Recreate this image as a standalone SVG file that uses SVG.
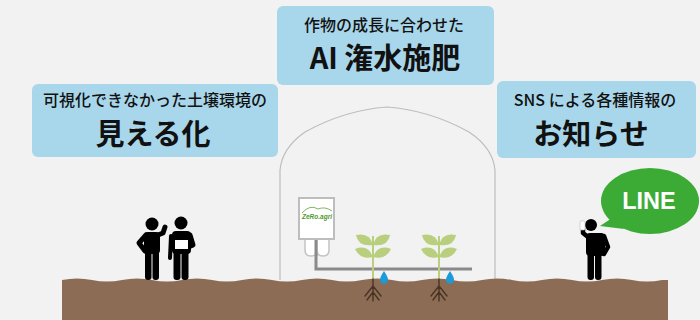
<svg xmlns="http://www.w3.org/2000/svg" width="700" height="320" viewBox="0 0 700 320">
  <style>
    .box { fill: #a8d6ea; }
    .jp { font-family: "Noto Sans CJK JP", "Noto Sans", sans-serif; fill: #111; text-anchor: middle; }
    .small { font-size: 16px; font-weight: 500; }
    .big { font-size: 29px; font-weight: 700; }
    .ink { fill: #000; }
    .limb { fill: none; stroke: #000; stroke-linecap: round; stroke-linejoin: round; }
    .leaf { fill: #b9cf7e; }
    .root { fill: none; stroke: #4a3324; stroke-width: 1.4; stroke-linecap: round; }
    .drop { fill: #1d9ad8; }
  </style>

  <rect width="700" height="320" fill="#f2f2f2"/>

  <!-- greenhouse outline -->
  <path d="M280,280 V170 Q282,148 305,132 Q345,110 387,107 Q429,110 469,132 Q493,148 495,170 V280" fill="none" stroke="#bdbdbd" stroke-width="1.2"/>

  <!-- soil -->
  <path d="M62,280 q15,-3 30,0 t30,0 t30,0 t30,0 t30,0 t30,0 t30,0 t30,0 t30,0 t30,0 t30,0 t30,0 t30,0 t30,0 t30,0 t30,0 t30,0 t30,0 t30,0 t30,0 L668,280 V320 H62 Z" fill="#8c6c54"/>

  <!-- label: visualisation -->
  <g id="label-visualize">
    <rect class="box" x="32" y="84" width="246" height="73" rx="6"/>
    <text class="jp small" x="155" y="106">可視化できなかった土壌環境の</text>
    <text class="jp big" x="153" y="145">見える化</text>
  </g>

  <!-- label: AI irrigation -->
  <g id="label-ai">
    <rect class="box" x="277" y="6" width="217" height="79" rx="6"/>
    <text class="jp small" x="384" y="31">作物の成長に合わせた</text>
    <text class="jp big" x="385" y="69">AI 潅水施肥</text>
  </g>

  <!-- label: notifications -->
  <g id="label-sns">
    <rect class="box" x="497" y="81" width="199" height="77" rx="6"/>
    <text class="jp small" x="595" y="106">SNS による各種情報の</text>
    <text class="jp big" x="591" y="145">お知らせ</text>
  </g>

  <!-- connectors: irrigation piping -->
  <g id="connectors">
    <path d="M316,240 V269 H472" fill="none" stroke="#8a8a8a" stroke-width="3"/>
  </g>

  <!-- controller unit -->
  <g id="controller">
    <path d="M305,239 V250 Q305,256 311,256 Q317,256 317,250 V239" fill="#fff" stroke="#c4c4c4" stroke-width="1.5"/>
    <path d="M317,239 V250 Q317,256 323,256 Q329,256 329,250 V239" fill="#fff" stroke="#c4c4c4" stroke-width="1.5"/>
    <path d="M316,240 V256" stroke="#8a8a8a" stroke-width="3"/>
    <rect x="299" y="198" width="35" height="41" fill="#fff" stroke="#bdbdbd" stroke-width="2"/>
    <path d="M302,213 Q310,204 318,209 Q325,206 332,211" fill="none" stroke="#5fa33a" stroke-width="0.8"/>
    <text x="317" y="219" font-family="Liberation Sans, sans-serif" font-size="6.5" font-weight="700" font-style="italic" fill="#4f9a2e" text-anchor="middle">ZeRo.agri</text>
  </g>

  <!-- plant 1 -->
  <g id="plant-1">
    <path d="M373,236 V279" stroke="#b9cf7e" stroke-width="2"/>
    <path class="leaf" d="M373,245 Q370,232 356,235 Q358,247 373,245Z"/>
    <path class="leaf" d="M373,245 Q376,232 390,235 Q388,247 373,245Z"/>
    <path class="leaf" d="M373,257 Q368,244 355,249 Q360,260 373,257Z"/>
    <path class="leaf" d="M373,257 Q378,244 391,249 Q386,260 373,257Z"/>
    <path class="root" d="M373,279 V301 M373,286 L365,296 M373,286 L381,296 M373,292 L367,300 M373,292 L379,300"/>
    <path class="drop" d="M384,271 C384,271 380,277 380,279.5 A4,4 0 0 0 388,279.5 C388,277 384,271 384,271Z"/>
  </g>

  <!-- plant 2 -->
  <g id="plant-2">
    <path d="M439,236 V279" stroke="#b9cf7e" stroke-width="2"/>
    <path class="leaf" d="M439,245 Q436,232 422,235 Q424,247 439,245Z"/>
    <path class="leaf" d="M439,245 Q442,232 456,235 Q454,247 439,245Z"/>
    <path class="leaf" d="M439,257 Q434,244 421,249 Q426,260 439,257Z"/>
    <path class="leaf" d="M439,257 Q444,244 457,249 Q452,260 439,257Z"/>
    <path class="root" d="M439,279 V301 M439,286 L431,296 M439,286 L447,296 M439,292 L433,300 M439,292 L445,300"/>
    <path class="drop" d="M450,271 C450,271 446,277 446,279.5 A4,4 0 0 0 454,279.5 C454,277 450,271 450,271Z"/>
  </g>

  <!-- farmer pointing -->
  <g id="person-1">
    <circle class="ink" cx="152" cy="224" r="6.5"/>
    <rect class="ink" x="144" y="232" width="16" height="22" rx="4"/>
    <rect class="ink" x="145" y="249" width="6.5" height="31" rx="3"/>
    <rect class="ink" x="152.5" y="249" width="6.5" height="31" rx="3"/>
    <polyline class="limb" points="146,235 139,243 145,251" stroke-width="5"/>
    <polyline class="limb" points="158,235 163,233 165,227" stroke-width="5"/>
  </g>

  <!-- farmer with clipboard -->
  <g id="person-2">
    <circle class="ink" cx="181" cy="223" r="6.5"/>
    <rect class="ink" x="172" y="231" width="19" height="23" rx="4"/>
    <rect class="ink" x="173.5" y="249" width="7" height="31" rx="3"/>
    <rect class="ink" x="181.5" y="249" width="7" height="31" rx="3"/>
    <polyline class="limb" points="171,236 170,258" stroke-width="4"/>
    <polyline class="limb" points="190,235 193,245 184,249" stroke-width="5"/>
    <rect x="175" y="240" width="13" height="9" fill="#fff"/>
  </g>

  <!-- person with phone -->
  <g id="person-3">
    <circle class="ink" cx="591" cy="225" r="6"/>
    <rect class="ink" x="586" y="233" width="19" height="23" rx="4"/>
    <rect class="ink" x="587.5" y="251" width="6.5" height="29" rx="3"/>
    <rect class="ink" x="595" y="251" width="6.5" height="29" rx="3"/>
    <polyline class="limb" points="604,236 608,247 604,254" stroke-width="4.5"/>
    <polyline class="limb" points="588,237 583,233 583,228" stroke-width="4.5"/>
    <rect x="580" y="221" width="5" height="9" rx="1" fill="#fff" stroke="#bbb" stroke-width="0.6"/>
  </g>

  <!-- LINE speech bubble -->
  <g id="line-bubble">
    <polygon points="612,218 600,226 624,229" fill="#3bab36"/>
    <ellipse cx="650" cy="201" rx="49" ry="33" fill="#3bab36"/>
    <text x="649" y="209" font-family="Liberation Sans, Arial, sans-serif" font-size="23.5" font-weight="700" fill="#fff" text-anchor="middle">LINE</text>
  </g>
</svg>
